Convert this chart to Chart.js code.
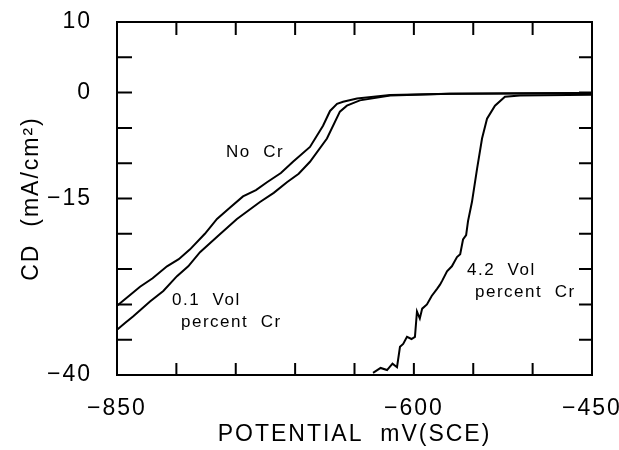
<!DOCTYPE html>
<html>
<head>
<meta charset="utf-8">
<script src="https://cdn.jsdelivr.net/npm/chart.js@4/dist/chart.umd.min.js"></script>
<style>
  html, body { margin: 0; padding: 0; background: #fff; }
  #wrap { width: 619px; height: 450px; }
</style>
</head>
<body>
<div id="wrap"><canvas id="cd"></canvas></div>
<script>
// potential (mV vs SCE) and current density (mA/cm2)
const noCrX  = [-850, -840, -830.6, -820, -807.9, -798, -788.5, -776, -765.8, -755, -743.9, -733, -723.7, -712, -701.8, -687.5, -676.5, -670.6, -664.7, -659.6, -647.9, -620, -570, -450];
const noCrY  = [-30.2, -28.8, -27.5, -26.3, -24.6, -23.6, -22.2, -20.0, -17.9, -16.3, -14.7, -13.8, -12.7, -11.4, -9.8, -7.7, -4.7, -2.6, -1.6, -1.3, -0.85, -0.35, -0.18, -0.05];

const vol01X = [-850, -843, -836.5, -822.2, -811, -799.5, -790, -780.1, -765, -749, -729.6, -718, -706.9, -697, -687.5, -673.2, -662.3, -656.4, -645.5, -620, -570, -450];
const vol01Y = [-33.6, -32.6, -31.7, -29.6, -28.1, -26.0, -24.6, -22.6, -20.3, -17.9, -15.5, -14.2, -12.7, -11.5, -9.8, -6.5, -2.7, -1.85, -1.1, -0.4, -0.18, -0.05];

const vol42X = [-634.4, -628, -622.6, -618, -614.2, -611.7, -609, -605.8, -602, -599.1, -597.4, -595, -593, -589.0, -585, -580.5, -578, -576, -572.1, -568, -563.7, -561, -558.6, -556, -554.4, -551.1, -546.8, -542.6, -538.4, -531.7, -523.3, -510.6, -450];
const vol42Y = [-39.7, -39.0, -39.3, -38.4, -38.9, -36.0, -35.6, -34.6, -34.9, -34.6, -31.0, -32.0, -30.6, -30.0, -28.8, -27.8, -27.2, -26.6, -25.3, -24.6, -23.3, -22.9, -20.8, -20.2, -18.2, -15.5, -10.8, -6.5, -3.7, -1.85, -0.6, -0.4, -0.3];

const xTickLabels = [-850, -600, -450];
const yTickLabels = [10, 0, -15, -40];

const FONT = '"Liberation Sans", Arial, sans-serif';

function toPoints(xs, ys) {
    return xs.map(function (x, i) { return { x: x, y: ys[i] }; });
}

function minus(v) {
    return v < 0 ? '\u2212' + Math.abs(v) : String(v);
}

// box, inward tick marks and the curve labels
const framePlugin = {
    id: 'frame',
    beforeUpdate: function (chart) {
        chart.ctx.letterSpacing = '2px';
    },
    afterDraw: function (chart) {
        const ctx  = chart.ctx;
        const area = chart.chartArea;
        const xs   = chart.scales.x;
        const ys   = chart.scales.y;

        ctx.save();
        ctx.strokeStyle = '#000';
        ctx.lineWidth = 2;
        ctx.strokeRect(area.left, area.top, area.right - area.left, area.bottom - area.top);

        ctx.beginPath();
        xs.ticks.forEach(function (t) {
            const px = xs.getPixelForValue(t.value);
            ctx.moveTo(px, area.bottom); ctx.lineTo(px, area.bottom - 12);
            ctx.moveTo(px, area.top);    ctx.lineTo(px, area.top + 13);
        });
        ys.ticks.forEach(function (t) {
            const py = ys.getPixelForValue(t.value);
            ctx.moveTo(area.left, py);  ctx.lineTo(area.left + 15, py);
            ctx.moveTo(area.right, py); ctx.lineTo(area.right - 13, py);
        });
        ctx.stroke();

        ctx.fillStyle = '#000';
        ctx.font = '17px ' + FONT;
        ctx.letterSpacing = '1.5px';
        ctx.textBaseline = 'middle';
        ctx.textAlign = 'left';
        ctx.fillText('No  Cr', 226, 152);
        ctx.fillText('0.1  Vol', 172, 300);
        ctx.fillText('percent  Cr', 181, 322);
        ctx.fillText('4.2  Vol', 467, 270);
        ctx.fillText('percent  Cr', 475, 292);
        ctx.restore();
    }
};

new Chart(document.getElementById('cd').getContext('2d'), {
    type: 'line',
    data: {
        datasets: [
            { label: 'No Cr', data: toPoints(noCrX, noCrY) },
            { label: '0.1 Vol percent Cr', data: toPoints(vol01X, vol01Y) },
            { label: '4.2 Vol percent Cr', data: toPoints(vol42X, vol42Y) }
        ].map(function (ds) {
            ds.borderColor = '#000';
            ds.borderWidth = 2;
            ds.pointRadius = 0;
            ds.tension = 0;
            ds.fill = false;
            return ds;
        })
    },
    options: {
        responsive: true,
        maintainAspectRatio: false,
        animation: false,
        layout: { padding: { top: 22, right: 27, left: 0, bottom: 0 } },
        plugins: {
            legend: { display: false },
            tooltip: { enabled: false }
        },
        scales: {
            x: {
                type: 'linear',
                min: -850,
                max: -450,
                grid: { display: false },
                border: { display: false },
                ticks: {
                    stepSize: 50,
                    autoSkip: false,
                    maxRotation: 0,
                    padding: 12,
                    color: '#000',
                    font: { family: FONT, size: 23 },
                    callback: function (v) {
                        return xTickLabels.indexOf(v) >= 0 ? minus(v) : '';
                    }
                },
                title: {
                    display: true,
                    text: 'POTENTIAL  mV(SCE)',
                    color: '#000',
                    font: { family: FONT, size: 23 },
                    padding: { top: 0, bottom: 2 }
                },
                afterFit: function (scale) {
                    scale.height = 75;
                    scale.paddingLeft = 0;
                    scale.paddingRight = 0;
                }
            },
            y: {
                type: 'linear',
                min: -40,
                max: 10,
                grid: { display: false },
                border: { display: false },
                ticks: {
                    stepSize: 5,
                    autoSkip: false,
                    padding: 17,
                    color: '#000',
                    font: { family: FONT, size: 23 },
                    callback: function (v) {
                        return yTickLabels.indexOf(v) >= 0 ? minus(v) : '';
                    }
                },
                title: {
                    display: true,
                    text: 'CD  (mA/cm\u00b2)',
                    color: '#000',
                    font: { family: FONT, size: 23 },
                    padding: { top: 18, bottom: 0 }
                },
                afterFit: function (scale) {
                    scale.width = 117;
                    scale.paddingTop = 0;
                    scale.paddingBottom = 0;
                }
            }
        }
    },
    plugins: [framePlugin]
});
</script>
</body>
</html>
